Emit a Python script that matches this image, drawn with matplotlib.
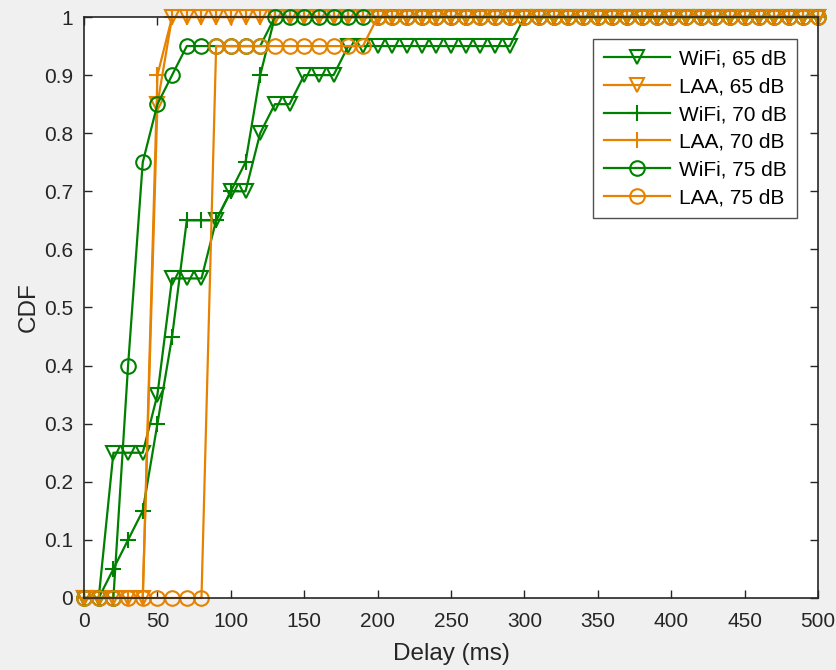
import numpy as np
import matplotlib.pyplot as plt

plt.rcParams['font.family'] = ['Liberation Sans', 'DejaVu Sans']

# delay grid (ms)
delay = np.arange(0, 510, 10)

def cdf(steps):
    # steps: list of (start delay, value) pairs, held until the next start
    y = np.zeros(len(delay))
    for start, val in steps:
        y[delay >= start] = val
    return y

wifi65 = cdf([(20, 0.25), (50, 0.35), (60, 0.55), (90, 0.65), (100, 0.70),
              (120, 0.80), (130, 0.85), (150, 0.90), (180, 0.95), (300, 1.0)])
laa65 = cdf([(50, 0.85), (60, 1.0)])
wifi70 = cdf([(20, 0.05), (30, 0.10), (40, 0.15), (50, 0.30), (60, 0.45),
              (70, 0.65), (100, 0.70), (110, 0.75), (120, 0.90), (130, 1.0)])
laa70 = cdf([(50, 0.90), (60, 1.0)])
wifi75 = cdf([(30, 0.40), (40, 0.75), (50, 0.85), (60, 0.90), (70, 0.95),
              (130, 1.0)])
laa75 = cdf([(90, 0.95), (200, 1.0)])

green = '#008000'
orange = '#E68200'

series = [
    (wifi65, green, 'v', 'WiFi, 65 dB'),
    (laa65, orange, 'v', 'LAA, 65 dB'),
    (wifi70, green, '+', 'WiFi, 70 dB'),
    (laa70, orange, '+', 'LAA, 70 dB'),
    (wifi75, green, 'o', 'WiFi, 75 dB'),
    (laa75, orange, 'o', 'LAA, 75 dB'),
]

fig = plt.figure(figsize=(8.37, 6.70), dpi=100, facecolor='#f0f0f0')
ax = fig.add_axes([0.1004, 0.1075, 0.8769, 0.8671])

for y, c, m, lab in series:
    ms = 12 if m == '+' else 10.5
    ax.plot(delay, y, color=c, marker=m, markersize=ms, markerfacecolor='none',
            markeredgewidth=1.5, linewidth=1.6, label=lab, clip_on=False)

ax.set_xlim(0, 500)
ax.set_ylim(0, 1)
ax.set_xticks(np.arange(0, 501, 50))
ax.set_yticks(np.arange(0, 1.01, 0.1))
ax.set_yticklabels(['0', '0.1', '0.2', '0.3', '0.4', '0.5', '0.6', '0.7', '0.8', '0.9', '1'])
ax.tick_params(direction='in', top=True, right=True, length=6, width=1,
               labelsize=15, colors='#262626', pad=8)
ax.tick_params(axis='x', pad=10)
for s in ax.spines.values():
    s.set_color('#262626')
    s.set_linewidth(1.2)

ax.set_xlabel('Delay (ms)', fontsize=17.5, color='#262626', labelpad=9)
ax.set_ylabel('CDF', fontsize=17.5, color='#262626', labelpad=3)

leg = ax.legend(loc='upper right', bbox_to_anchor=(0.9715, 0.962), fontsize=15,
                frameon=True, fancybox=False, edgecolor='#262626',
                handlelength=3.2, borderpad=0.5, labelspacing=0.42,
                handletextpad=0.4, borderaxespad=0)
leg.get_frame().set_linewidth(1.0)

fig.savefig('out.png', dpi=100, facecolor=fig.get_facecolor())
